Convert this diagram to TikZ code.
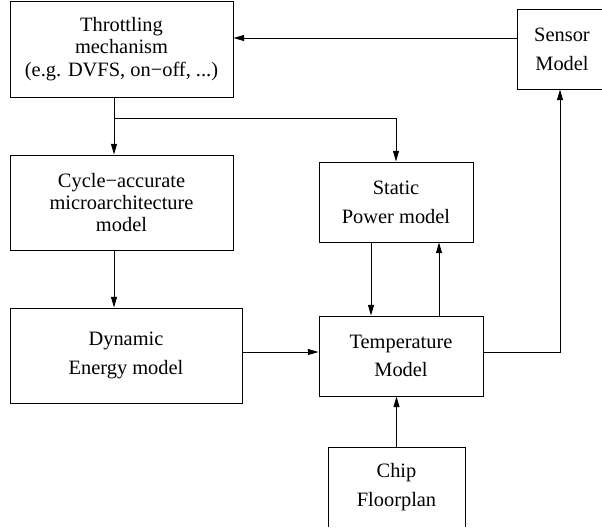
\documentclass[tikz,border=0pt]{standalone}
\usepackage{fontspec}
\newfontfamily\blkfont{LiberationSerif-Regular.ttf}
\usetikzlibrary{arrows.meta}

\begin{document}
\begin{tikzpicture}[x=0.632pt,y=-0.632pt,>={Triangle[length=6.8pt,width=3.8pt]},line width=0.6pt,
  blk/.style 2 args={draw,align=center,inner sep=0pt,
    font=\blkfont\fontsize{12.9}{14.2}\selectfont,
    minimum width=#1*0.632pt,minimum height=#2*0.632pt}]
\useasboundingbox (0,0) rectangle (602,527);
\clip (0,0) rectangle (602,526);

\node[blk={223}{96}] (throttle) at (121.5,49) {Throttling\\mechanism\\(e.g. DVFS, on−off, ...)};
\node[blk={223}{95}] (cycle) at (121.5,202.5) {Cycle−accurate\\microarchitecture\\model};
\node[blk={232}{95}] (dynamic) at (126,355.5) {Dynamic\\[4pt]Energy model};
\node[blk={154}{80}] (static) at (396,202) {Static\\[4pt]Power model};
\node[blk={164}{80}] (temp) at (401,356) {Temperature\\[4pt]Model};
\node[blk={137}{80}] (chip) at (396.5,487) {Chip\\[4pt]Floorplan};
\node[blk={90}{80}] (sensor) at (562,49) {Sensor\\[4pt]Model};

\coordinate (fbk) at (375,38);
\coordinate (split) at (114,118);
\coordinate (pwr) at (280,352);

\draw[->] (sensor.west |- fbk) -- (throttle.east |- fbk);
\draw[->] (throttle.south -| split) -- (cycle.north -| split);
\draw[->] (split) -| (static.north);
\draw[->] (cycle.south -| split) -- (dynamic.north -| split);
\draw[->] (dynamic.east |- pwr) -- (temp.west |- pwr);
\draw[->] (static.south -| 371,0) -- (temp.north -| 371,0);
\draw[->] (temp.north -| 439,0) -- (static.south -| 439,0);
\draw[->] (temp.east |- pwr) -- (560,352) -- (sensor.south -| 560,0);
\draw[->] (chip.north) -- (temp.south -| chip.north);
\end{tikzpicture}
\end{document}
